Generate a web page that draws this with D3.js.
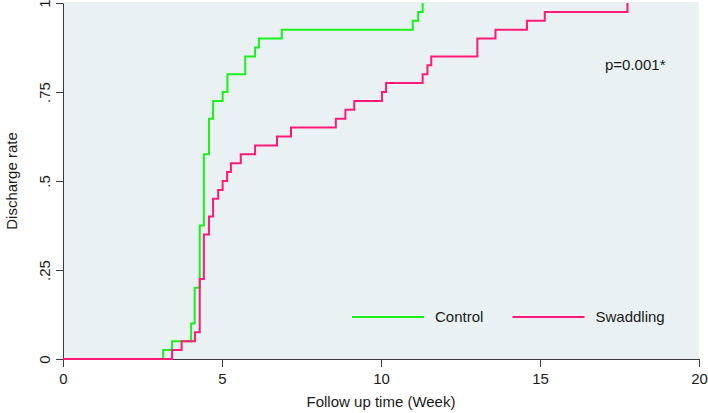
<!DOCTYPE html>
<html>
<head>
<meta charset="utf-8">
<script src="https://cdn.jsdelivr.net/npm/d3@7"></script>
<style>
  body { margin: 0; background: #ffffff; }
  svg { display: block; }
  text { font-family: "Liberation Sans", Arial, sans-serif; fill: #1a1a1a; }
  .axis path, .axis line { stroke: #3a3a3a; }
</style>
</head>
<body>
<script>
// Kaplan-Meier style cumulative discharge
var controlTimes = [0, 3.15, 3.43, 4.03, 4.14, 4.30, 4.43, 4.59, 4.72, 5.02, 5.17, 5.73, 6.04, 6.16, 6.88, 11.0, 11.17, 11.31];
var controlRates = [0, .025, .05, .10, .20, .375, .575, .675, .725, .75, .80, .85, .875, .90, .925, .95, .975, 1.0];

var swaddlingTimes = [0, 3.43, 3.73, 4.15, 4.30, 4.43, 4.59, 4.72, 4.88, 5.02, 5.16, 5.28, 5.59, 6.04, 6.73, 7.17,
                      8.58, 8.88, 9.16, 10.03, 10.16, 11.31, 11.46, 11.58, 13.03, 13.6, 14.59, 15.15, 17.75];
var swaddlingRates = [0, .025, .05, .075, .225, .35, .40, .45, .475, .50, .525, .55, .575, .60, .625, .65,
                      .675, .70, .725, .75, .775, .80, .825, .85, .90, .925, .95, .975, 1.0];

var xTicks = [0, 5, 10, 15, 20];
var yTicks = [0, .25, .5, .75, 1];
var yTickLabels = ["0", ".25", ".5", ".75", "1"];
var groups = ["Control", "Swaddling"];

var totalWidth = 708;
var totalHeight = 413;
var margin = {"left": 63, "right": 9, "top": 3, "bottom": 54};

var graphWidth = totalWidth - margin.left - margin.right;
var graphHeight = totalHeight - margin.top - margin.bottom;

var color = d3.scaleOrdinal().domain(groups).range(["#1cf01c", "#ff1a78"]);

var xScale = d3.scaleLinear()
               .domain([0, 20])
               .range([0, graphWidth]);

var yScale = d3.scaleLinear()
               .domain([0, 1])
               .range([graphHeight, 0]);

var svg = d3.select("body")
            .append("svg")
            .attr("width", totalWidth)
            .attr("height", totalHeight);

var g = svg.append("g")
           .attr("transform", "translate(" + margin.left + "," + margin.top + ")");

// plot background
g.append("rect")
 .attr("x", 0)
 .attr("y", -1)
 .attr("width", graphWidth)
 .attr("height", graphHeight + 1)
 .attr("fill", "#e9f1f3");

// axes
var xAxis = d3.axisBottom(xScale)
              .tickValues(xTicks)
              .tickSize(8)
              .tickSizeOuter(0)
              .tickPadding(6)
              .tickFormat(d3.format("d"));

var yAxis = d3.axisLeft(yScale)
              .tickValues(yTicks)
              .tickSize(7)
              .tickSizeOuter(0)
              .tickFormat(function(d, i) { return yTickLabels[i]; });

var gx = g.append("g")
          .attr("class", "axis")
          .attr("transform", "translate(0," + graphHeight + ")")
          .call(xAxis);
gx.selectAll("text")
  .style("font-size", "15px")
  .attr("dy", "0.71em");

var gy = g.append("g")
          .attr("class", "axis")
          .call(yAxis);
gy.selectAll("text")
  .style("font-size", "15px")
  .attr("text-anchor", "middle")
  .attr("x", 0)
  .attr("dy", 0)
  .attr("transform", "translate(-13,0) rotate(-90)");

// axis titles
svg.append("text")
   .attr("x", margin.left + graphWidth / 2)
   .attr("y", 407)
   .attr("text-anchor", "middle")
   .style("font-size", "15px")
   .text("Follow up time (Week)");

svg.append("text")
   .attr("transform", "translate(17," + (margin.top + graphHeight / 2) + ") rotate(-90)")
   .attr("text-anchor", "middle")
   .style("font-size", "15px")
   .text("Discharge rate");

// step curves
var stepLine = d3.line()
                 .x(function(d) { return xScale(d[0]); })
                 .y(function(d) { return yScale(d[1]); })
                 .curve(d3.curveStepAfter);

var series = [
  {"name": "Control", "points": d3.zip(controlTimes, controlRates)},
  {"name": "Swaddling", "points": d3.zip(swaddlingTimes, swaddlingRates)}
];

g.selectAll(".km")
 .data(series)
 .enter()
 .append("path")
 .attr("class", "km")
 .attr("fill", "none")
 .attr("stroke", function(d) { return color(d.name); })
 .attr("stroke-width", 2)
 .attr("d", function(d) { return stepLine(d.points); });

// p value
svg.append("text")
   .attr("x", 605)
   .attr("y", 70)
   .style("font-size", "15px")
   .text("p=0.001*");

// legend
var legend = svg.selectAll(".legend")
                .data(groups)
                .enter()
                .append("g")
                .attr("class", "legend")
                .attr("transform", function(d, i) { return "translate(" + (352 + i * 160.5) + ",317)"; });

legend.append("line")
      .attr("x1", 0)
      .attr("x2", 72)
      .attr("stroke", function(d) { return color(d); })
      .attr("stroke-width", 2);

legend.append("text")
      .attr("x", 83)
      .attr("y", 5)
      .style("font-size", "15px")
      .text(function(d) { return d; });
</script>
</body>
</html>
